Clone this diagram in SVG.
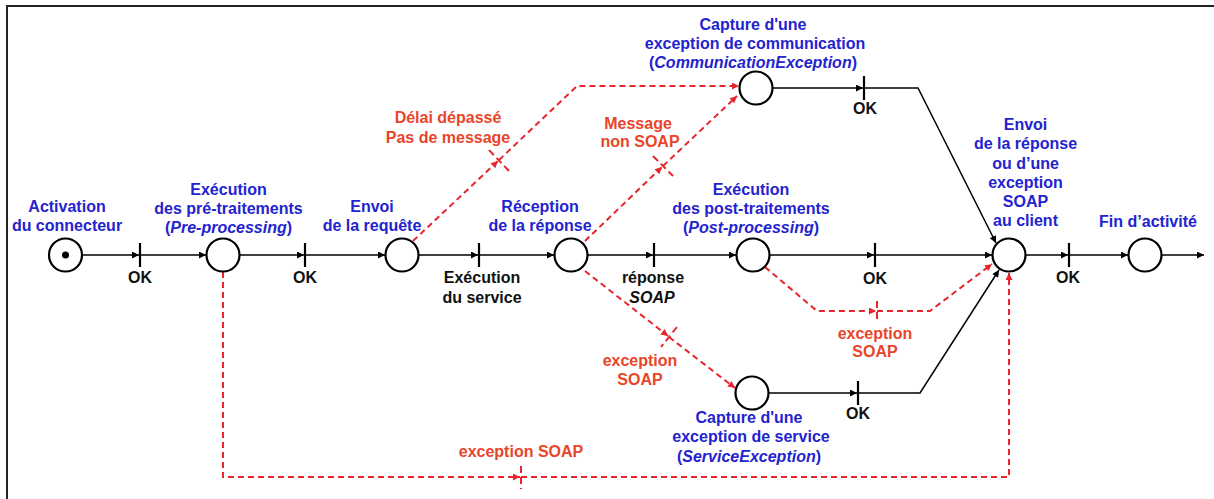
<svg xmlns="http://www.w3.org/2000/svg" width="1214" height="499" viewBox="0 0 1214 499">
  <defs>
    <marker id="arrowK" viewBox="0 0 10 10" refX="10" refY="5" markerWidth="9" markerHeight="7" orient="auto" markerUnits="userSpaceOnUse">
      <path d="M0,0 L10,5 L0,10 z" fill="#000"/>
    </marker>
    <marker id="arrowR" viewBox="0 0 10 10" refX="10" refY="5" markerWidth="9" markerHeight="7" orient="auto" markerUnits="userSpaceOnUse">
      <path d="M0,0 L10,5 L0,10 z" fill="#e8252d"/>
    </marker>
  </defs>
  <style>
    text { font-family: "Liberation Sans", Arial, sans-serif; font-weight: bold; font-size: 16px; text-anchor: middle; }
    .blue { fill: #2323cf; }
    .red { fill: #e8452a; }
    .black { fill: #111; }
    .it { font-style: italic; }
    .place { fill: #fff; stroke: #000; stroke-width: 2.2; }
    .arc { fill: none; stroke: #000; stroke-width: 1.5; }
    .exc { fill: none; stroke: #e8252d; stroke-width: 2; stroke-dasharray: 6 4; }
    .bar { stroke: #000; stroke-width: 2.2; }
    .tick { stroke: #e8252d; stroke-width: 2; stroke-dasharray: 7 4; }
  </style>

  <rect width="1214" height="499" fill="#fff"/>
  <!-- frame -->
  <path d="M7,499 L7,6 L1214,6" fill="none" stroke="#222" stroke-width="2"/>

  <g id="connectors">
    <!-- main flow -->
    <line class="arc" x1="82" y1="255" x2="139" y2="255" marker-end="url(#arrowK)"/>
    <line class="arc" x1="140" y1="255" x2="206" y2="255" marker-end="url(#arrowK)"/>
    <line class="arc" x1="240" y1="255" x2="304" y2="255" marker-end="url(#arrowK)"/>
    <line class="arc" x1="305" y1="255" x2="385" y2="255" marker-end="url(#arrowK)"/>
    <line class="arc" x1="419" y1="255" x2="478" y2="255" marker-end="url(#arrowK)"/>
    <line class="arc" x1="479" y1="255" x2="554" y2="255" marker-end="url(#arrowK)"/>
    <line class="arc" x1="588" y1="255" x2="653" y2="255" marker-end="url(#arrowK)"/>
    <line class="arc" x1="654" y1="255" x2="736" y2="255" marker-end="url(#arrowK)"/>
    <line class="arc" x1="770" y1="255" x2="874" y2="255" marker-end="url(#arrowK)"/>
    <line class="arc" x1="875" y1="255" x2="992" y2="255" marker-end="url(#arrowK)"/>
    <line class="arc" x1="1026" y1="255" x2="1068" y2="255" marker-end="url(#arrowK)"/>
    <line class="arc" x1="1069" y1="255" x2="1128" y2="255" marker-end="url(#arrowK)"/>
    <line class="arc" x1="1162" y1="255" x2="1204" y2="255" marker-end="url(#arrowK)"/>
    <!-- communication exception branch -->
    <line class="arc" x1="773" y1="88" x2="863" y2="88" marker-end="url(#arrowK)"/>
    <polyline class="arc" points="864,88 918,88 996,243" marker-end="url(#arrowK)"/>
    <!-- service exception branch -->
    <line class="arc" x1="769" y1="393" x2="857" y2="393" marker-end="url(#arrowK)"/>
    <polyline class="arc" points="858,393 920,393 999,270" marker-end="url(#arrowK)"/>

    <!-- timeout / no message -->
    <line class="exc" x1="413" y1="241" x2="498" y2="161" marker-end="url(#arrowR)"/>
    <polyline class="exc" points="499,160 577,86 739,86" marker-end="url(#arrowR)"/>
    <line class="tick" x1="489" y1="150" x2="509" y2="171"/>
    <!-- non SOAP message -->
    <line class="exc" x1="585" y1="241" x2="662" y2="167" marker-end="url(#arrowR)"/>
    <line class="exc" x1="663" y1="166" x2="737" y2="96" marker-end="url(#arrowR)"/>
    <line class="tick" x1="653" y1="156" x2="673" y2="176"/>
    <!-- SOAP exception to service exception -->
    <line class="exc" x1="585" y1="271" x2="668" y2="336" marker-end="url(#arrowR)"/>
    <line class="exc" x1="669" y1="337" x2="735" y2="388" marker-end="url(#arrowR)"/>
    <line class="tick" x1="677" y1="327" x2="661" y2="347"/>
    <!-- SOAP exception from post-processing -->
    <polyline class="exc" points="765,267 817,311 876,311" marker-end="url(#arrowR)"/>
    <polyline class="exc" points="877,311 930,311 992,264" marker-end="url(#arrowR)"/>
    <line class="tick" x1="877" y1="301" x2="877" y2="321"/>
    <!-- SOAP exception from pre-processing -->
    <polyline class="exc" points="223,272 223,477 520,477" marker-end="url(#arrowR)"/>
    <polyline class="exc" points="521,477 1009,477 1009,273" marker-end="url(#arrowR)"/>
    <line class="tick" x1="521" y1="466" x2="521" y2="489"/>

    <!-- transitions -->
    <line class="bar" x1="140" y1="243" x2="140" y2="267"/>
    <line class="bar" x1="305" y1="243" x2="305" y2="267"/>
    <line class="bar" x1="479" y1="243" x2="479" y2="267"/>
    <line class="bar" x1="654" y1="243" x2="654" y2="267"/>
    <line class="bar" x1="875" y1="243" x2="875" y2="267"/>
    <line class="bar" x1="1069" y1="243" x2="1069" y2="267"/>
    <line class="bar" x1="864" y1="76" x2="864" y2="100"/>
    <line class="bar" x1="858" y1="381" x2="858" y2="405"/>

    <!-- transition labels -->
    <text class="black" x="140" y="283">OK</text>
    <text class="black" x="305" y="283">OK</text>
    <text class="black" x="482" y="283">Exécution</text>
    <text class="black" x="482" y="302.5">du service</text>
    <text class="black" x="653" y="283">réponse</text>
    <text class="black it" x="652" y="302.5">SOAP</text>
    <text class="black" x="875" y="284">OK</text>
    <text class="black" x="1068" y="283">OK</text>
    <text class="black" x="865" y="114">OK</text>
    <text class="black" x="858" y="419">OK</text>

    <text class="red" x="448" y="123">Délai dépassé</text>
    <text class="red" x="448" y="142.5">Pas de message</text>
    <text class="red" x="638" y="129">Message</text>
    <text class="red" x="640" y="147">non SOAP</text>
    <text class="red" x="640" y="366">exception</text>
    <text class="red" x="640" y="384.5">SOAP</text>
    <text class="red" x="875" y="338.5">exception</text>
    <text class="red" x="875" y="357">SOAP</text>
    <text class="red" x="521" y="457">exception SOAP</text>
  </g>

  <g id="activation">
    <circle class="place" cx="65.5" cy="255" r="16.5"/>
    <circle cx="65.5" cy="255" r="3.5" fill="#000"/>
    <text class="blue" x="67" y="212">Activation</text>
    <text class="blue" x="67" y="231">du connecteur</text>
  </g>

  <g id="pre-processing">
    <circle class="place" cx="223" cy="255" r="16.5"/>
    <text class="blue" x="228.5" y="195">Exécution</text>
    <text class="blue" x="228.5" y="214">des pré-traitements</text>
    <text class="blue" x="228.5" y="233">(<tspan class="it">Pre-processing</tspan>)</text>
  </g>

  <g id="request">
    <circle class="place" cx="402" cy="255" r="16.5"/>
    <text class="blue" x="372" y="212">Envoi</text>
    <text class="blue" x="372" y="231">de la requête</text>
  </g>

  <g id="response">
    <circle class="place" cx="571" cy="255" r="16.5"/>
    <text class="blue" x="540" y="212">Réception</text>
    <text class="blue" x="540" y="231">de la réponse</text>
  </g>

  <g id="post-processing">
    <circle class="place" cx="753" cy="255" r="16.5"/>
    <text class="blue" x="751" y="195">Exécution</text>
    <text class="blue" x="751" y="214">des post-traitements</text>
    <text class="blue" x="751" y="233">(<tspan class="it">Post-processing</tspan>)</text>
  </g>

  <g id="communication-exception">
    <circle class="place" cx="756" cy="88" r="16.5"/>
    <text class="blue" x="753" y="29.5">Capture d'une</text>
    <text class="blue" x="755" y="48.5">exception de communication</text>
    <text class="blue" x="753" y="67.5">(<tspan class="it">CommunicationException</tspan>)</text>
  </g>

  <g id="service-exception">
    <circle class="place" cx="752" cy="393" r="16.5"/>
    <text class="blue" x="749" y="423">Capture d'une</text>
    <text class="blue" x="751" y="442">exception de service</text>
    <text class="blue" x="749" y="461.5">(<tspan class="it">ServiceException</tspan>)</text>
  </g>

  <g id="reply">
    <circle class="place" cx="1009" cy="255" r="16.5"/>
    <text class="blue" x="1025.5" y="130">Envoi</text>
    <text class="blue" x="1025.5" y="149">de la réponse</text>
    <text class="blue" x="1025.5" y="168.5">ou d’une</text>
    <text class="blue" x="1025.5" y="187.5">exception</text>
    <text class="blue" x="1025.5" y="206.5">SOAP</text>
    <text class="blue" x="1025.5" y="226">au client</text>
  </g>

  <g id="end">
    <circle class="place" cx="1145" cy="255" r="16.5"/>
    <text class="blue" x="1148" y="226.5">Fin d’activité</text>
  </g>
</svg>
